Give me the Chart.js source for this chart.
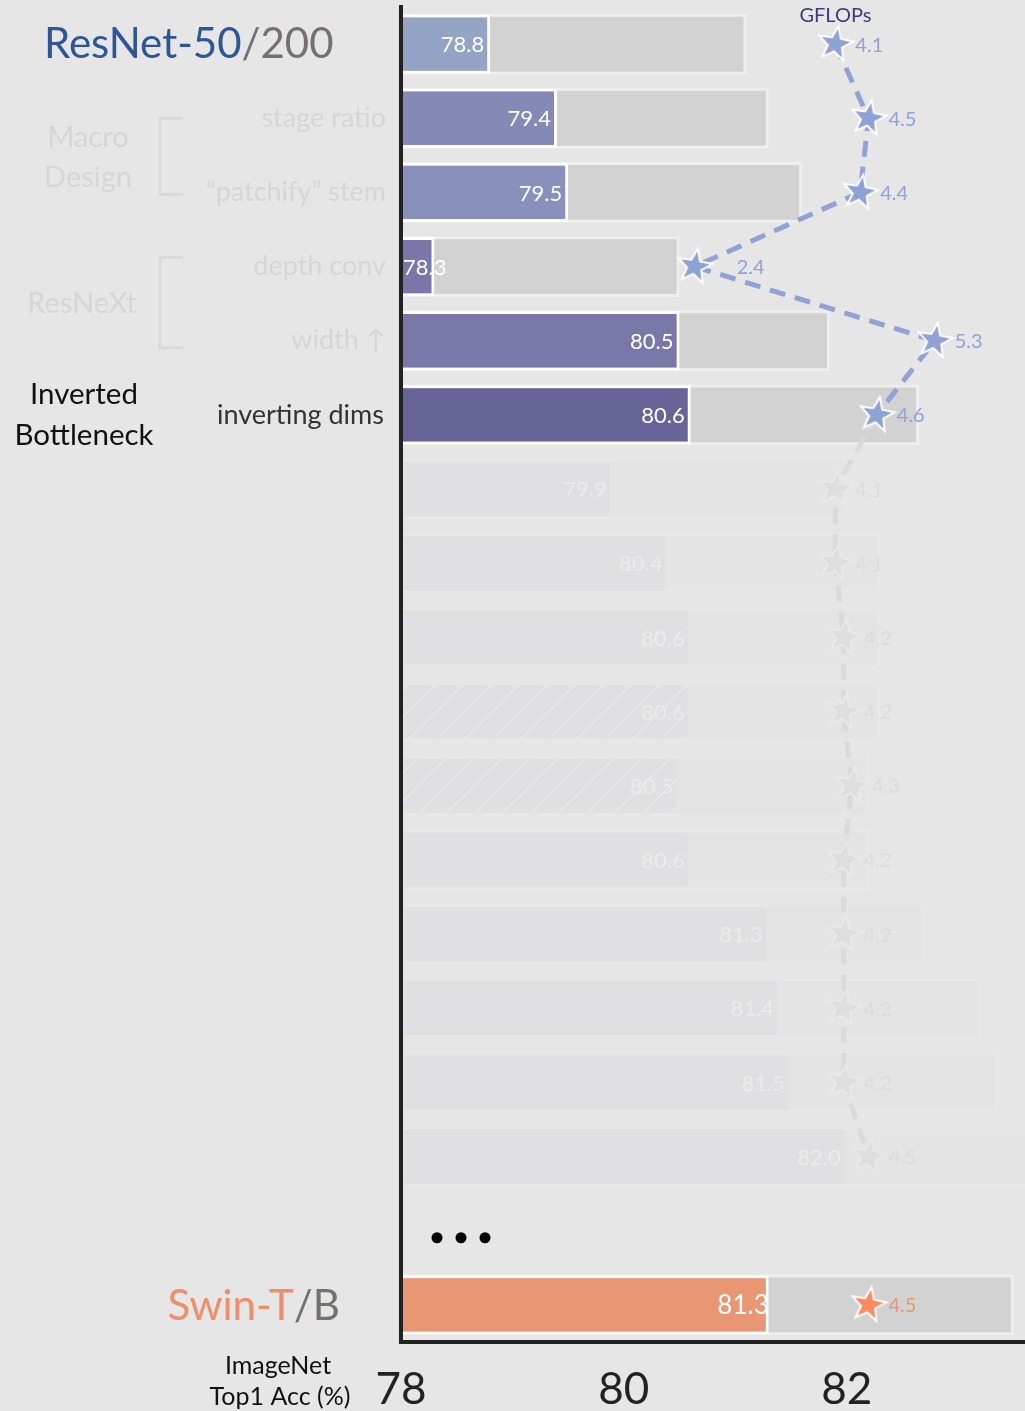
<!DOCTYPE html>
<html>
<head>
<meta charset="utf-8">
<title>ResNet-50 a ConvNeXt</title>
<script src="https://cdn.jsdelivr.net/npm/chart.js@4.4.1/dist/chart.umd.min.js"></script>
<style>
    html, body { margin: 0; padding: 0; background: #e6e6e6; }
    #grafico { display: block; }
</style>
</head>
<body>
<canvas id="grafico" width="1025" height="1411"></canvas>
<script>
// pasos del diseño, de arriba hacia abajo (la fila 16 es el hueco de los "...")
const pasos = ["ResNet-50", "stage ratio", "“patchify” stem", "depth conv", "width ↑", "inverting dims",
    "move ↑ d. conv", "kernel sz. → 5", "kernel sz. → 7", "kernel sz. → 9", "kernel sz. → 11",
    "ReLU ➝ GELU", "fewer activations", "fewer norms", "BN ➝ LN", "sep. d.s. conv", "...", "Swin-T"];

// precisión top-1 del modelo pequeño (barra de color)
const precision = [78.8, 79.4, 79.5, 78.3, 80.5, 80.6, 79.9, 80.4, 80.6, 80.6, 80.5, 80.6, 81.3, 81.4, 81.5, 82.0, null, 81.3];
// precisión del modelo grande (barra gris del fondo)
const precisionGrande = [81.1, 81.3, 81.6, 80.5, 81.85, 82.65, 82.0, 82.3, 82.3, 82.3, 82.2, 82.2, 82.7, 83.2, 83.35, 83.8, null, 83.5];
// GFLOPs de cada paso (estrellas)
const gflops = [4.1, 4.5, 4.4, 2.4, 5.3, 4.6, 4.1, 4.1, 4.2, 4.2, 4.3, 4.2, 4.2, 4.2, 4.2, 4.5, null, 4.5];
const ticksX = [78, 80, 82];

const fuente = 'Lato, "Open Sans", sans-serif';
const filaActiva = i => i <= 5 || i === 17;
const filaRayada = i => i === 9 || i === 10;

const coloresFrente = ["#93a4c5", "#8489b6", "#8890bb", "#7977aa", "#7878a9", "#676498"];
const naranja = "#e99673";
const tenueFrente = "#e0e0e2";

function estrella(relleno, borde, r) {
    const c = document.createElement("canvas");
    const s = r * 2 + 6;
    c.width = s;
    c.height = s;
    const g = c.getContext("2d");
    g.beginPath();
    for (let k = 0; k < 10; k++) {
        const rad = k % 2 === 0 ? r : r * 0.42;
        const a = -Math.PI / 2 + k * Math.PI / 5;
        g.lineTo(s / 2 + rad * Math.cos(a), s / 2 + rad * Math.sin(a));
    }
    g.closePath();
    g.fillStyle = relleno;
    g.fill();
    g.lineWidth = 2;
    g.strokeStyle = borde;
    g.stroke();
    return c;
}

function rayado() {
    const c = document.createElement("canvas");
    c.width = 28;
    c.height = 28;
    const g = c.getContext("2d");
    g.fillStyle = tenueFrente;
    g.fillRect(0, 0, 28, 28);
    g.strokeStyle = "rgba(255,255,255,0.3)";
    g.lineWidth = 1.5;
    g.beginPath();
    g.moveTo(-4, 32); g.lineTo(32, -4);
    g.stroke();
    return document.createElement("canvas").getContext("2d").createPattern(c, "repeat");
}

const estrellaAzul = estrella("#8fa2d5", "#ffffff", 18);
const estrellaTenue = estrella("#dedede", "#e9e9e9", 18);
const estrellaNaranja = estrella("#fb8c5f", "#ffffff", 18);
const patronRayado = rayado();

// el 2.4 va más separado para no pisar la línea
const separaEtiqueta = { 3: 42 };

function colorFrente(i) {
    if (i === 17) return naranja;
    if (filaActiva(i)) return coloresFrente[i];
    return filaRayada(i) ? patronRayado : tenueFrente;
}

function texto(ctx, str, x, y, size, color, align) {
    ctx.font = size + "px " + fuente;
    ctx.fillStyle = color;
    ctx.textAlign = align || "left";
    ctx.textBaseline = "middle";
    ctx.fillText(str, x, y);
}

// dos colores en la misma línea: "ResNet-50" + "/200"
function textoDoble(ctx, a, b, x, y, size, colorA, colorB, alinear) {
    ctx.font = size + "px " + fuente;
    const wa = ctx.measureText(a).width;
    const wb = ctx.measureText(b).width;
    const x0 = alinear === "right" ? x - wa - wb : x;
    texto(ctx, a, x0, y, size, colorA);
    texto(ctx, b, x0 + wa, y, size, colorB);
}

const etiquetas = {
    id: "etiquetas",
    afterDatasetsDraw(chart) {
        const ctx = chart.ctx;
        const area = chart.chartArea;
        ctx.save();

        // valores dentro de las barras
        chart.getDatasetMeta(1).data.forEach((bar, i) => {
            if (precision[i] == null) return;
            const size = i === 17 ? 26 : 22;
            const str = precision[i].toFixed(1);
            ctx.font = size + "px " + fuente;
            const w = ctx.measureText(str).width;
            const color = filaActiva(i) ? "#ffffff" : "#ebebeb";
            let x = bar.x - (i === 17 ? 0 : 6);
            if (x - w < area.left + 2) x = area.left + 2 + w;
            texto(ctx, str, x, bar.y + 1, size, color, "right");
        });

        // GFLOPs junto a cada estrella
        chart.getDatasetMeta(0).data.forEach((p, i) => {
            if (gflops[i] == null) return;
            let color = filaActiva(i) ? "#8fa3d6" : "#dcdcdc";
            if (i === 17) color = naranja;
            texto(ctx, gflops[i].toFixed(1), p.x + (separaEtiqueta[i] || 20), p.y + 1, 20, color);
        });
        ctx.restore();
    },
    afterDraw(chart) {
        const ctx = chart.ctx;
        const area = chart.chartArea;
        const fy = i => chart.scales.y.getPixelForValue(i);
        const tenue = "#d6d6d6";
        ctx.save();

        texto(ctx, "GFLOPs", chart.scales.x2.getPixelForValue(gflops[0]), area.top + 9, 20, "#3e3a80", "center");

        textoDoble(ctx, "ResNet-50", "/200", 44, fy(0), 42, "#2e5597", "#767171", "left");
        textoDoble(ctx, "Swin-T", "/B", 340, fy(17) + 2, 42, "#ed8e6c", "#767171", "right");

        // Macro Design
        texto(ctx, "Macro", 88, (fy(1) + fy(2)) / 2 - 18, 29, tenue, "center");
        texto(ctx, "Design", 88, (fy(1) + fy(2)) / 2 + 22, 29, tenue, "center");
        // ResNeXt
        texto(ctx, "ResNeXt", 82, (fy(3) + fy(4)) / 2, 29, tenue, "center");

        ctx.strokeStyle = "#d9d9d9";
        ctx.lineWidth = 3;
        [[fy(1), fy(2) + 2], [fy(3) - 9, fy(4) + 7]].forEach(([a, b]) => {
            ctx.beginPath();
            ctx.moveTo(183, a);
            ctx.lineTo(160, a);
            ctx.lineTo(160, b);
            ctx.lineTo(183, b);
            ctx.stroke();
        });

        for (let i = 1; i <= 4; i++) texto(ctx, pasos[i], 386, fy(i), 27, tenue, "right");
        texto(ctx, pasos[5], 384, fy(5), 27, "#333333", "right");

        texto(ctx, "Inverted", 84, fy(5) - 20, 29.5, "#111111", "center");
        texto(ctx, "Bottleneck", 84, fy(5) + 21, 29.5, "#111111", "center");

        // fila de puntos suspensivos
        ctx.fillStyle = "#000000";
        [437, 461, 485].forEach(x => {
            ctx.beginPath();
            ctx.arc(x, fy(16) + 7, 5.5, 0, Math.PI * 2);
            ctx.fill();
        });

        texto(ctx, "ImageNet", 278, area.bottom + 24, 25, "#111111", "center");
        texto(ctx, "Top1 Acc (%)", 280, area.bottom + 55, 25, "#111111", "center");
        ctx.restore();
    }
};

new Chart(document.getElementById("grafico"), {
    type: "bar",
    data: {
        labels: pasos,
        datasets: [
            {
                type: "line",
                label: "GFLOPs",
                indexAxis: "y",
                data: gflops,
                xAxisID: "x2",
                order: 0,
                borderColor: "#8fa3d6",
                borderWidth: 5,
                borderDash: [16, 10],
                fill: false,
                tension: 0,
                spanGaps: false,
                clip: false,
                pointStyle: ctx => ctx.dataIndex === 17 ? estrellaNaranja : (filaActiva(ctx.dataIndex) ? estrellaAzul : estrellaTenue),
                pointRotation: 10,
                pointRadius: 18,
                segment: {
                    borderColor: ctx => ctx.p0DataIndex >= 5 ? "#dadada" : "#8fa3d6"
                }
            },
            {
                label: "Top1 Acc",
                data: precision,
                grouped: false,
                order: 1,
                backgroundColor: precision.map((v, i) => colorFrente(i)),
                borderColor: precision.map((v, i) => filaActiva(i) ? "#ffffff" : "rgba(0,0,0,0)"),
                borderWidth: 3,
                barPercentage: 0.8,
                categoryPercentage: 1
            },
            {
                label: "modelo grande",
                data: precisionGrande,
                grouped: false,
                order: 2,
                backgroundColor: precisionGrande.map((v, i) => filaActiva(i) ? "#d2d2d2" : "#e4e4e4"),
                borderColor: precisionGrande.map((v, i) => filaActiva(i) ? "#efefef" : "#e7e7e7"),
                borderWidth: 3,
                barPercentage: 0.82,
                categoryPercentage: 1
            }
        ]
    },
    options: {
        indexAxis: "y",
        responsive: false,
        animation: false,
        layout: { autoPadding: false, padding: { left: 401, top: 7, right: 0, bottom: 0 } },
        plugins: {
            legend: { display: false },
            tooltip: { enabled: false }
        },
        scales: {
            x: {
                type: "linear",
                min: 78,
                max: 83.6,
                afterBuildTicks: s => { s.ticks = ticksX.map(v => ({ value: v })); },
                afterFit: s => { s.height = 69; s.paddingRight = 0; s.paddingLeft = 0; },
                grid: { display: false, drawTicks: false },
                border: { display: true, color: "#222222", width: 4, z: 1 },
                ticks: { color: "#222222", font: { family: fuente, size: 44 }, padding: 21 }
            },
            x2: {
                type: "linear",
                display: false,
                min: -1.148,
                max: 6.391
            },
            y: {
                type: "category",
                offset: true,
                afterFit: s => { s.width = 0; s.paddingTop = 0; s.paddingBottom = 0; },
                ticks: { display: false },
                grid: { display: false, drawTicks: false },
                border: { display: true, color: "#222222", width: 4, z: 1 }
            }
        }
    },
    plugins: [etiquetas]
});
</script>
</body>
</html>
